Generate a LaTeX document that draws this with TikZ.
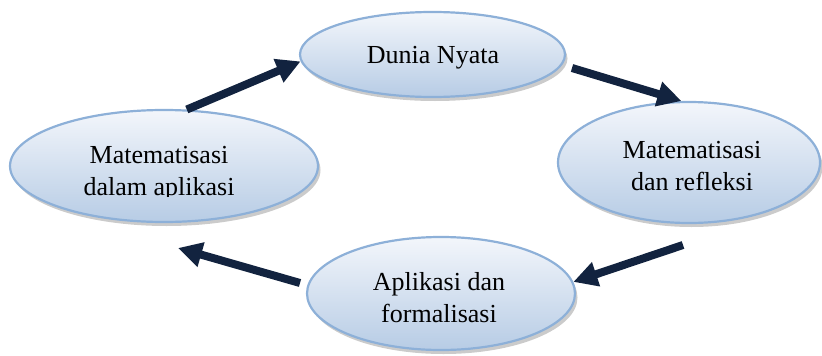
\documentclass[tikz,border=0pt]{standalone}
\usepackage{fontspec}
\setmainfont{Liberation Serif}
\usetikzlibrary{shapes.geometric,arrows.meta,shadows}
\definecolor{navy}{HTML}{12233F}
\definecolor{rimblue}{HTML}{8DB0D8}
\definecolor{topfill}{HTML}{F3F6FB}
\definecolor{botfill}{HTML}{B7CCE5}
\tikzset{
  bubble/.style={ellipse, draw=rimblue, line width=2.2pt, inner sep=0pt,
    top color=topfill, bottom color=botfill,
    drop shadow={shadow xshift=2.5pt, shadow yshift=-4pt, fill=black!45, opacity=0.45}},
  txt/.style={anchor=base, inner sep=0pt, font=\fontsize{26}{32}\selectfont},
  flow/.style={draw=navy, line width=8pt, -{Triangle[length=24pt,width=24pt]}}
}
\begin{document}
\begin{tikzpicture}[x=1pt,y=-1pt]
\useasboundingbox (0,0) rectangle (822,356);
\node[bubble, minimum width=265pt, minimum height=85pt] (T) at (432.5,54.5) {};
\node[bubble, minimum width=308pt, minimum height=112pt] (L) at (164,166) {};
\node[bubble, minimum width=262pt, minimum height=121pt] (R) at (689,162.5) {};
\node[bubble, minimum width=268pt, minimum height=113pt] (B) at (441,293.5) {};
\node[txt] (T1) at (433,63) {Dunia Nyata};
\begin{scope}
\clip (10,100) rectangle (320,196);
\node[txt] (L1) at (159,163) {Matematisasi};
\node[txt] (L2) at (159,195) {dalam aplikasi};
\end{scope}
\node[txt] (R1) at (692,158) {Matematisasi};
\node[txt] (R2) at (692,190) {dan refleksi};
\node[txt] (B1) at (439,290) {Aplikasi dan};
\node[txt] (B2) at (439,322) {formalisasi};
\coordinate (s2) at (572,68);
\coordinate (s3) at (683,245);
\coordinate (s4) at (300,283);
\coordinate (e4) at (178,248);
\draw[flow] (L.68) -- (T.183);
\draw[flow] (s2) -- (R.97);
\draw[flow] (s3) -- (B.5);
\draw[flow] (s4) -- (e4);
\end{tikzpicture}
\end{document}
